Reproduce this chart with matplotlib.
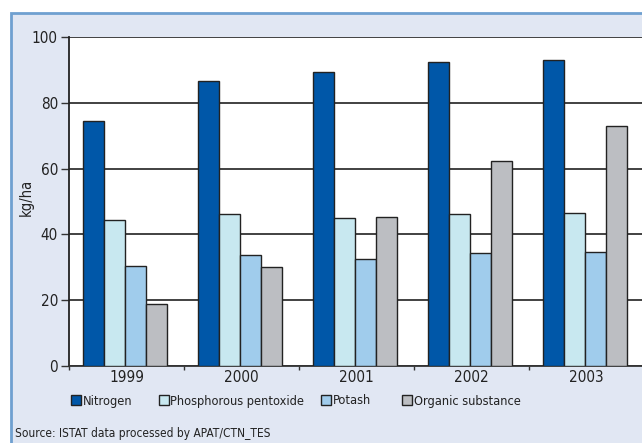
import matplotlib
matplotlib.use("Agg")
import matplotlib.pyplot as plt
from matplotlib.patches import Rectangle
import numpy as np

plt.rcParams['font.family'] = ['Liberation Sans Narrow', 'DejaVu Sans']
plt.rcParams['font.stretch'] = 'condensed'

anni = ['1999', '2000', '2001', '2002', '2003']
serie = ['Nitrogen', 'Phosphorous pentoxide', 'Potash', 'Organic substance']
azoto = [74.6, 86.6, 89.5, 92.3, 93.0]
fosforo = [44.4, 46.1, 45.0, 46.3, 46.6]
potassio = [30.5, 33.8, 32.4, 34.4, 34.6]
organica = [18.7, 30.2, 45.4, 62.2, 72.8]
colori = ['#0057a8', '#c8e8f0', '#a0ccec', '#bcbec2']

W, H = 642, 443
fig = plt.figure(figsize=(W / 100, H / 100), dpi=100, facecolor='white')

# riquadro azzurro con bordo blu
fig.patches.append(Rectangle((11 / W, -0.05), 1.1, (H - 13) / H + 0.05,
                             transform=fig.transFigure, facecolor='#e1e7f3',
                             edgecolor='#6fa0d0', linewidth=2, zorder=-10))

ax = fig.add_axes([69 / W, 1 - 366 / H, (644 - 69) / W, 329 / H])
ax.set_zorder(5)
ax.set_facecolor('white')

x = np.arange(len(anni))
larg = 0.183
valori = [azoto, fosforo, potassio, organica]
barre = []
for i, (nome, v) in enumerate(zip(serie, valori)):
    b = ax.bar(x - 1.5 * larg + i * larg - 0.01, v, width=larg, color=colori[i],
               edgecolor='#222222', linewidth=1.0, label=nome, zorder=3)
    barre.append(b)

ax.set_xlim(-0.5, len(anni) - 0.5)
ax.set_ylim(0, 100)
ax.set_yticks([0, 20, 40, 60, 80, 100])
ax.yaxis.grid(True, color='#333333', linewidth=1.3, zorder=0)
ax.set_axisbelow(True)

ax.set_xticks(x)
ax.set_xticklabels(anni, fontsize=11, color='#222222')
ax.set_xticks(np.arange(len(anni) + 1) - 0.5, minor=True)
ax.tick_params(axis='x', which='major', length=0, pad=3)
ax.tick_params(axis='x', which='minor', length=3, width=1, color='#333333')
ax.tick_params(axis='y', length=6, width=1, color='#333333', labelsize=11,
               labelcolor='#222222', pad=2)

for s in ['top', 'right']:
    ax.spines[s].set_visible(False)
ax.spines['left'].set_color('#222222')
ax.spines['left'].set_linewidth(1.3)
ax.spines['bottom'].set_color('#333333')
ax.spines['bottom'].set_linewidth(1.3)

ax.set_ylabel('kg/ha', fontsize=10.5, color='#222222')
ax.yaxis.set_label_coords((34 - 69) / 575, (366 - 197) / 329)

# una voce di legenda per volta, come nell'originale
pos_legenda = [71, 159, 321, 402]
for b, nome, px in zip(barre, serie, pos_legenda):
    fig.legend(handles=[b], labels=[nome], loc='center left',
               bbox_to_anchor=(px / W, 1 - 401 / H), frameon=False,
               fontsize=9.2, handlelength=0.75, handleheight=0.85,
               handletextpad=0.15, borderaxespad=0, borderpad=0,
               labelcolor='#222222')

fig.text(15 / W, 1 - 433 / H, 'Source: ISTAT data processed by APAT/CTN_TES',
         fontsize=8.6, color='#222222', va='center', ha='left')

fig.savefig('out.png', dpi=100, facecolor='white')
